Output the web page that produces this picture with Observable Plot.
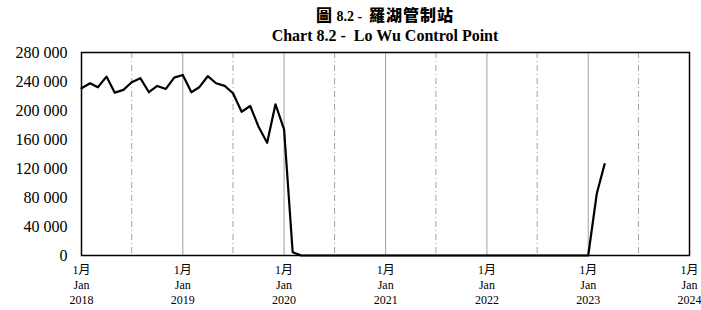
<!DOCTYPE html>
<html><head><meta charset="utf-8">
<script src="https://cdn.jsdelivr.net/npm/d3@7"></script>
<script src="https://cdn.jsdelivr.net/npm/@observablehq/plot@0.6"></script>
<style>
body{margin:0;background:#fff;font-family:"Liberation Serif","Times New Roman",serif;color:#000;}
.t{margin-left:81px;width:608px;text-align:center;font-weight:bold;white-space:pre;}
#t1{font-size:14px;height:21px;line-height:28px;}
#t1 .cjk{font-family:"Noto Sans CJK TC";font-size:16px;font-weight:900;letter-spacing:1px;}
#t2{font-size:16px;height:21px;line-height:30px;}
</style></head><body>
<div class="t" id="t1"><span class="cjk">圖</span> 8.2 -  <span class="cjk">羅湖管制站</span></div>
<div class="t" id="t2">Chart 8.2 -  Lo Wu Control Point</div>
<div id="chart"></div>
<script>
// Monthly passenger figures, Jan 2018 – Mar 2023
const values2018 = [230700, 237600, 232000, 246800, 224600, 228400, 239000, 244600, 225200, 233900, 229700, 245400];
const values2019 = [249000, 225200, 232000, 247300, 237600, 233900, 223800, 198300, 206200, 177600, 155400, 208600];
const values2020 = [174000, 4500, 300, 0, 0, 0, 0, 0, 0, 0, 0, 0];
const values2021 = [0, 0, 0, 0, 0, 0, 0, 0, 0, 0, 0, 0];
const values2022 = [0, 0, 0, 0, 0, 0, 0, 0, 0, 0, 0, 0];
const values2023 = [0, 85500, 126000];
const years = [2018, 2019, 2020, 2021, 2022, 2023];
const tickYears = [2018, 2019, 2020, 2021, 2022, 2023, 2024];
const yTicks = [0, 40000, 80000, 120000, 160000, 200000, 240000, 280000];
const monthZh = "1月", monthEn = "Jan";

const series = [values2018, values2019, values2020, values2021, values2022, values2023];
const data = [];
series.forEach((arr, i) => arr.forEach((v, m) => data.push({date: new Date(Date.UTC(years[i], m, 1)), value: v})));

const janDates = tickYears.map(y => new Date(Date.UTC(y, 0, 1)));
const julDates = years.map(y => new Date(Date.UTC(y, 6, 1)));
const innerJan = janDates.slice(1, -1);

const fmt = d => d3.format(",")(d).replace(/,/g, " ");
const FONT = '"Liberation Serif","Times New Roman","Noto Sans CJK TC",serif';

const chart = Plot.plot({
  width: 701,
  height: 268,
  marginTop: 10,
  marginBottom: 55,
  marginLeft: 81,
  marginRight: 12,
  style: {fontFamily: FONT, color: "#000", background: "#fff"},
  x: {type: "utc", domain: [janDates[0], janDates[janDates.length - 1]]},
  y: {domain: [0, 280000]},
  marks: [
    Plot.ruleX(innerJan, {stroke: "#a0a0a0", strokeWidth: 1}),
    Plot.ruleX(julDates, {stroke: "#a0a0a0", strokeWidth: 1, strokeDasharray: "6,3,1,3"}),
    Plot.axisY({ticks: yTicks, tickFormat: fmt, tickSize: 0, tickPadding: 14, fontSize: 16, fontFamily: FONT, label: null}),
    Plot.axisX({ticks: janDates, tickFormat: d => `${monthZh}\n${monthEn}\n${d.getUTCFullYear()}`, tickSize: 0, tickPadding: 8, fontSize: 12, fontFamily: FONT, lineHeight: 1.25, label: null}),
    Plot.line(data, {x: "date", y: "value", stroke: "#000", strokeWidth: 2.2}),
    Plot.frame({stroke: "#000", strokeWidth: 1.5})
  ]
});
document.getElementById("chart").appendChild(chart);
</script>
</body></html>
